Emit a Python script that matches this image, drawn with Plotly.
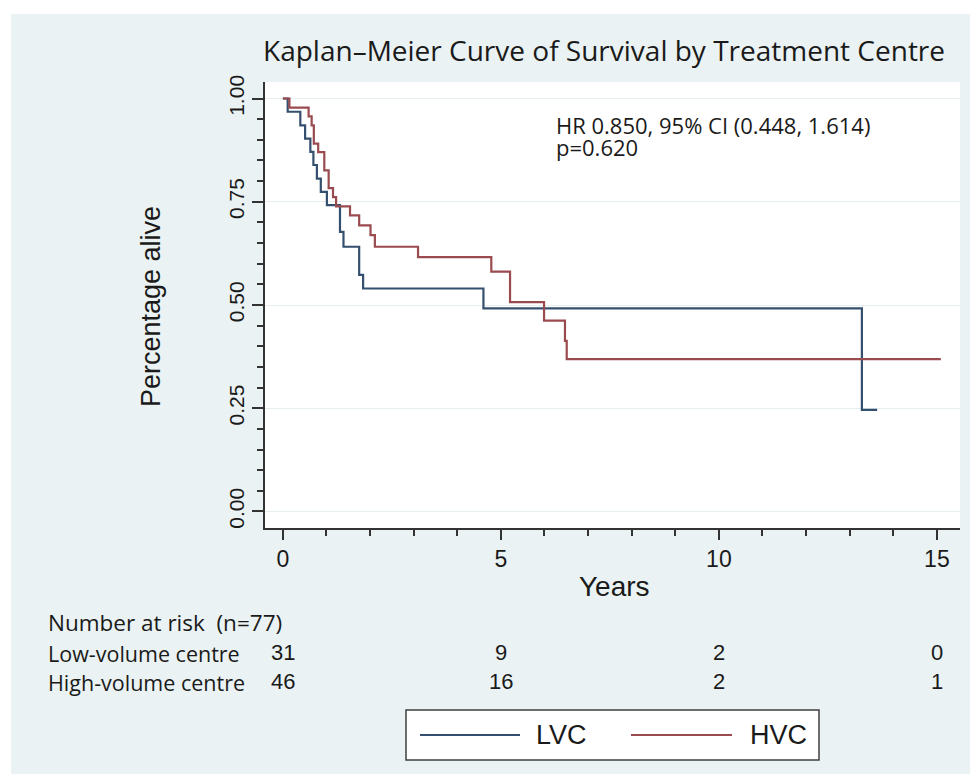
import plotly.graph_objects as go

# ---- data ----
lvc_years = [0, 0.11, 0.40, 0.51, 0.63, 0.70, 0.78, 0.87, 1.01, 1.31, 1.39, 1.75, 1.84, 4.60, 13.28, 13.63]
lvc_surv = [1.0, 0.968, 0.935, 0.903, 0.871, 0.839, 0.806, 0.774, 0.742, 0.677, 0.641, 0.573, 0.540, 0.492, 0.246, 0.246]

hvc_years = [0, 0.15, 0.59, 0.66, 0.71, 0.81, 0.95, 1.05, 1.15, 1.22, 1.54, 1.75, 2.01, 2.11, 3.10, 4.78, 5.21, 5.99, 6.47, 6.51, 15.09]
hvc_surv = [1.0, 0.978, 0.957, 0.935, 0.891, 0.870, 0.826, 0.783, 0.761, 0.739, 0.717, 0.693, 0.669, 0.641, 0.616, 0.581, 0.507, 0.462, 0.413, 0.369, 0.369]

risk_times = [0, 5, 10, 15]
risk_low = [31, 9, 2, 0]
risk_high = [46, 16, 2, 1]

y_ticks = [0, 0.25, 0.5, 0.75, 1.0]
x_ticks = [0, 5, 10, 15]

series_names = ["LVC", "HVC"]
row_labels = ["Low-volume centre", "High-volume centre"]

# ---- style ----
C_LVC = "#34506e"
C_HVC = "#9a4b50"
PANEL = "#eaf2f3"
TXT = "#1a1a1a"
CAL = "Open Sans"
ARI = "Liberation Sans, Arial"

# page layout (the page body has an 8px margin, so the figure sits at (8, 8))
OFF = 8
W, H = 962, 766
PL, PR, PT, PB = 265, 960, 82, 528  # plot area in page pixels
L, T = PL - OFF, PT - OFF
R, B = W - (PR - OFF), H - (PB - OFF)


def px(xp):
    return (xp - PL) / (PR - PL)


def py(yp):
    return (PB - yp) / (PB - PT)


fig = go.Figure()
fig.add_trace(go.Scatter(x=lvc_years, y=lvc_surv, mode="lines", line=dict(shape="hv", color=C_LVC, width=2.2),
                         name=series_names[0], showlegend=False))
fig.add_trace(go.Scatter(x=hvc_years, y=hvc_surv, mode="lines", line=dict(shape="hv", color=C_HVC, width=2.2),
                         name=series_names[1], showlegend=False))

shapes = [
    # white strips outside the grey panel
    dict(type="rect", xref="paper", yref="paper", x0=px(-20), x1=px(1000), y0=py(14), y1=py(-20),
         fillcolor="white", line=dict(width=0), layer="below"),
    dict(type="rect", xref="paper", yref="paper", x0=px(-20), x1=px(11), y0=py(800), y1=py(-20),
         fillcolor="white", line=dict(width=0), layer="below"),
    # legend box
    dict(type="rect", xref="paper", yref="paper", x0=px(406), x1=px(819), y0=py(760), y1=py(710),
         fillcolor="white", line=dict(color="#404040", width=1.5)),
    dict(type="line", xref="paper", yref="paper", x0=px(420), x1=px(520), y0=py(735), y1=py(735),
         line=dict(color=C_LVC, width=2.2)),
    dict(type="line", xref="paper", yref="paper", x0=px(631), x1=px(732), y0=py(735), y1=py(735),
         line=dict(color=C_HVC, width=2.2)),
]

ann = []
ann.append(dict(text="Kaplan\u2013Meier Curve of Survival by Treatment Centre", x=px(604), y=py(50),
                xref="paper", yref="paper", xanchor="center", yanchor="middle", showarrow=False,
                font=dict(family=CAL, size=28, color=TXT)))
ann.append(dict(text="HR 0.850, 95% CI (0.448, 1.614)", x=px(554), y=py(125), xref="paper", yref="paper",
                xanchor="left", yanchor="middle", showarrow=False, font=dict(family=CAL, size=22, color=TXT)))
ann.append(dict(text="p=0.620", x=px(554), y=py(147), xref="paper", yref="paper",
                xanchor="left", yanchor="middle", showarrow=False, font=dict(family=CAL, size=22, color=TXT)))
ann.append(dict(text="Percentage alive", x=px(151), y=py(307), xref="paper", yref="paper", textangle=-90,
                xanchor="center", yanchor="middle", showarrow=False, font=dict(family=ARI, size=27, color=TXT)))
ann.append(dict(text="Years", x=px(614), y=py(586), xref="paper", yref="paper",
                xanchor="center", yanchor="middle", showarrow=False, font=dict(family=ARI, size=28, color=TXT)))
ann.append(dict(text="Number at risk\u00a0 (n=77)", x=px(46), y=py(622), xref="paper", yref="paper",
                xanchor="left", yanchor="middle", showarrow=False, font=dict(family=CAL, size=22.5, color=TXT)))
for i, lab in enumerate(row_labels):
    ann.append(dict(text=lab, x=px(46), y=py(653 + 29 * i), xref="paper", yref="paper",
                    xanchor="left", yanchor="middle", showarrow=False, font=dict(family=CAL, size=21.5, color=TXT)))
for row, vals in enumerate([risk_low, risk_high]):
    for t, v in zip(risk_times, vals):
        ann.append(dict(text=str(v), x=t, y=py(652 + 29 * row), xref="x", yref="paper",
                        xanchor="center", yanchor="middle", showarrow=False,
                        font=dict(family=ARI, size=22, color=TXT)))
ann.append(dict(text=series_names[0], x=px(534), y=py(735), xref="paper", yref="paper",
                xanchor="left", yanchor="middle", showarrow=False, font=dict(family=ARI, size=27, color=TXT)))
ann.append(dict(text=series_names[1], x=px(748), y=py(735), xref="paper", yref="paper",
                xanchor="left", yanchor="middle", showarrow=False, font=dict(family=ARI, size=27, color=TXT)))

fig.update_layout(
    width=W, height=H,
    margin=dict(l=L, r=R, t=T, b=B, pad=0),
    paper_bgcolor=PANEL, plot_bgcolor="white",
    shapes=shapes, annotations=ann, showlegend=False,
    xaxis=dict(range=[-0.41, 15.53], tickvals=x_ticks, ticks="outside", ticklen=10, tickwidth=1.5,
               tickcolor="#333", showline=True, linecolor="#333", linewidth=1.5, showgrid=False,
               zeroline=False, tickfont=dict(family=ARI, size=23, color=TXT),
               minor=dict(dtick=1, ticks="outside", ticklen=6, tickwidth=1.5, tickcolor="#333", showgrid=False)),
    yaxis=dict(range=[-0.04, 1.04], tickvals=y_ticks, tickformat=".2f", ticks="outside", ticklen=11,
               tickwidth=1.5, tickcolor="#333", showline=True, linecolor="#333", linewidth=1.5,
               showgrid=True, gridcolor="#e6eef0", gridwidth=1.2, zeroline=False, tickangle=-90,
               tickfont=dict(family=ARI, size=21, color=TXT),
               minor=dict(dtick=0.05, ticks="outside", ticklen=6, tickwidth=1.5, tickcolor="#333", showgrid=False)),
)

fig.write_html("out.html")
